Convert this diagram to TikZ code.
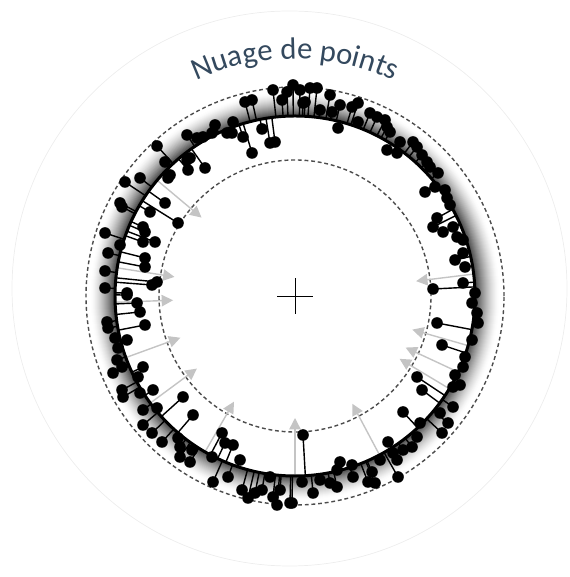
\documentclass[tikz,border=0pt]{standalone}
\usepackage{fontspec}
\newfontfamily\titlefont{Carlito}
\usetikzlibrary{calc, arrows.meta, decorations.text}
\definecolor{titleblue}{HTML}{34495E}
\definecolor{raygray}{HTML}{C4C4C4}
\tikzset{
  dashring/.style={draw=black!70, line width=.8pt, dash pattern=on 2.2pt off 1.6pt},
  stem/.style={draw=black, line width=.8pt},
  ray/.style={draw=raygray, line width=.8pt, -{Triangle[length=6.5pt,width=6.5pt]}},
  cloudpt/.style={fill=black}
}
\def\dotlist{245/102, 252/100, 262/129, 233/122, 215/125, 212/133, 203/137, 197/138, 187/135, 227/133, 232/133, 243/137, 252/153, 270/143, 275/142, 157/146, 165/162, 187/160, 190/158, 188/170, 205/168, 170/175, 168/178, 125/182, 140/178, 120/203, 122/207, 150/212, 165/203, 178/223, 105/233, 120/245, 143/227, 145/232, 143/242, 155/242, 108/253, 105/271, 145/258, 145/267, 105/288, 152/285, 157/282, 127/293,
273/90, 282/100, 287/92, 293/85, 300/90, 310/88, 317/88, 305/102,
330/95, 340/105, 303/103, 320/110, 332/112, 352/107, 358/103, 338/128, 370/113, 377/117, 385/120, 358/122, 387/127, 390/132, 400/142, 413/142, 417/147, 387/150, 397/153, 422/155, 427/162, 430/167, 438/173, 425/192, 435/187, 445/190, 447/198, 450/205, 437/218, 433/227, 443/232, 453/227, 457/237, 463/240, 455/260, 463/253, 465/267, 463/283, 433/289, 475/293,
127/295, 107/322, 108/328, 137/303, 140/312, 145/325, 115/338, 127/340, 118/348, 117/360, 113/373, 122/367, 143/367, 138/377, 122/390, 123/397, 140/393, 153/390, 183/397, 193/415, 143/410, 157/408, 143/425, 152/433, 162/442, 178/438, 180/447, 192/450, 180/457, 190/462, 222/433, 225/443, 233/445, 240/460, 212/457, 228/477, 213/482, 242/490, 248/498, 255/493, 262/490, 270/477, 273/497, 280/490, 290/503, 277/505,
472/303, 477/313, 478/323, 472/340, 437/323, 442/345, 465/357, 463/367, 455/375, 460/385, 453/387, 417/377, 422/390, 453/407, 440/413, 448/423, 442/433, 403/412, 420/423, 417/437, 412/447, 403/450, 388/442, 380/460, 397/460, 393/453, 398/477, 372/472, 368/482, 375/483, 352/465, 353/477, 340/462, 337/470, 330/483, 337/487, 320/480, 313/493, 302/482, 303/435, 292/503}

\begin{document}
\begin{tikzpicture}[x=0.02cm, y=0.02cm]
  % frame %
  \useasboundingbox (0,0) rectangle (569,577);
  \coordinate (ctr) at (295,281);
  \draw[black!7, line width=.4pt] (289.5,288.5) circle[radius=277.5];

  % ring %
  \foreach \i in {0,...,24} {
    \pgfmathsetmacro\shadeamt{72*(1-\i/24)^1.5}
    \draw[black!\shadeamt, line width=.9pt] (ctr) circle[radius=181+\i];
  }
  \draw[dashring] (ctr) circle[radius=209];
  \draw[dashring] (ctr) circle[radius=136];

  % rays %
  \foreach \a in {140,171,182,200,216.5,240,270,298,329,335,344,7}
    \draw[ray] ($(ctr)+(\a:180)$) -- ($(ctr)+(\a:122)$);
  \draw[line width=1.7pt] (ctr) circle[radius=180];

  % points %
  \foreach \px/\py in \dotlist
    \draw[stem] (\px,577-\py) -- ($(ctr)!3.6cm!(\px,577-\py)$);
  \foreach \px/\py in \dotlist
    \fill[cloudpt] (\px,577-\py) circle[radius=5.8];

  % centre %
  \draw[line width=.5pt] ($(ctr)+(-18,0)$) -- ($(ctr)+(18,0)$);
  \draw[line width=.5pt] ($(ctr)+(0,-18)$) -- ($(ctr)+(0,18)$);

  % title %
  \path[decorate, decoration={text along path, text align=center,
    text={|\titlefont\fontsize{17.5}{20}\selectfont\color{titleblue}|Nuage de points}}]
    ($(ctr)+(140:237)$) arc[start angle=140, end angle=40, radius=237];
\end{tikzpicture}
\end{document}
